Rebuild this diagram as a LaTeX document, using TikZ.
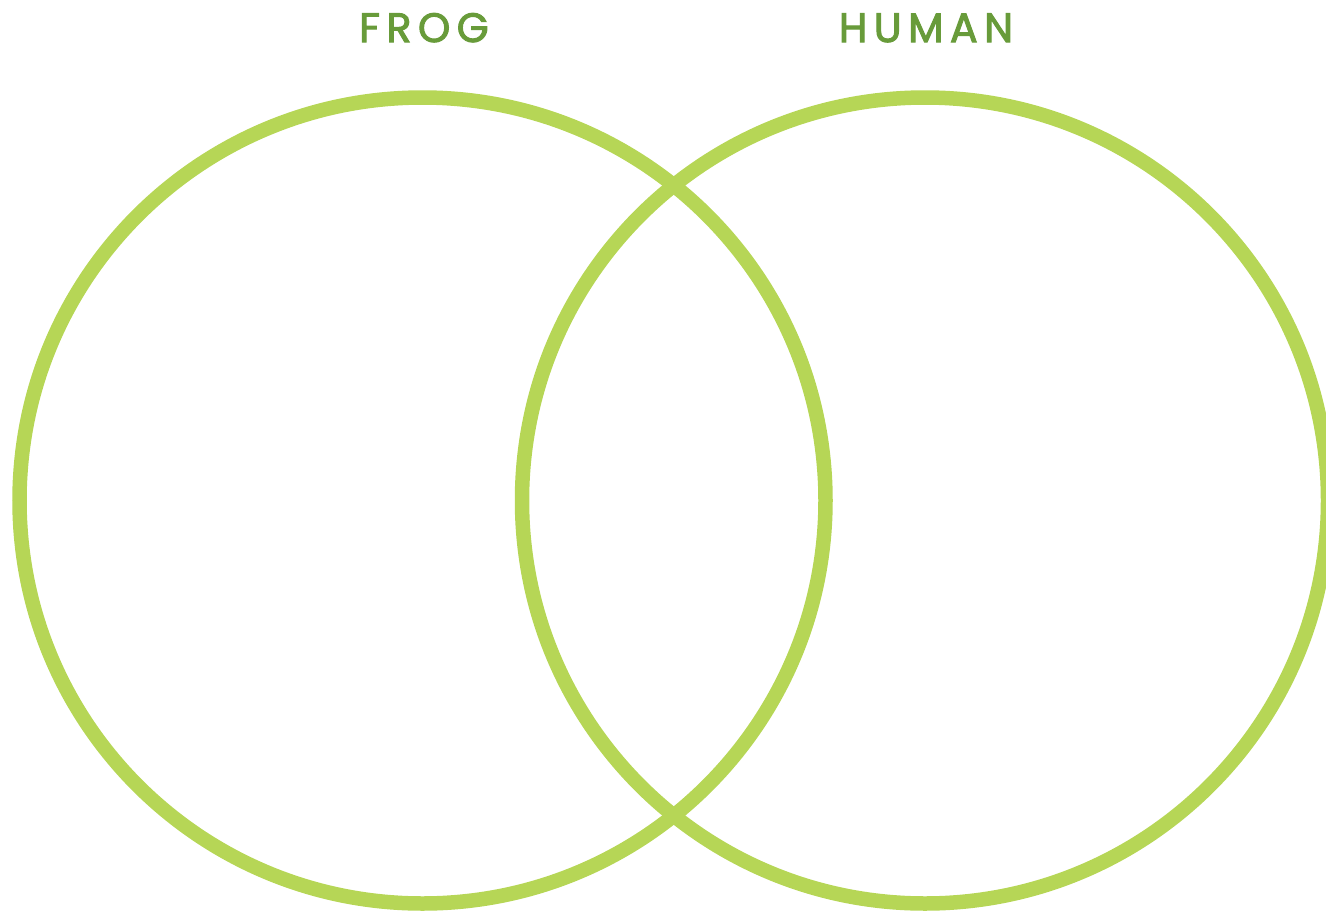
\documentclass[tikz,border=0pt]{standalone}
\usepackage{fontspec}
\setmainfont{Poppins}
\newfontfamily\labelfont[LetterSpace=16,FakeBold=2.6]{Poppins}
\definecolor{ringgreen}{RGB}{182,214,86}
\definecolor{labelgreen}{RGB}{104,155,58}
\tikzset{
  ring/.style={draw=ringgreen, line width=14.5pt},
  setlabel/.style={text=labelgreen, font=\labelfont\fontsize{41}{41}\selectfont, anchor=base, inner sep=0pt}
}
\begin{document}
\begin{tikzpicture}[x=1pt,y=-1pt]
\useasboundingbox (0,0) rectangle (1326,911);
\node[ring, circle, minimum size=806pt, inner sep=0pt] (frog) at (422.5,500.5) {};
\node[ring, circle, minimum size=806pt, inner sep=0pt] (human) at (925,500.5) {};
\node[setlabel] (frogl) at (424,42) {FROG};
\node[setlabel] (humanl) at (926,42) {HUMAN};
\end{tikzpicture}
\end{document}
